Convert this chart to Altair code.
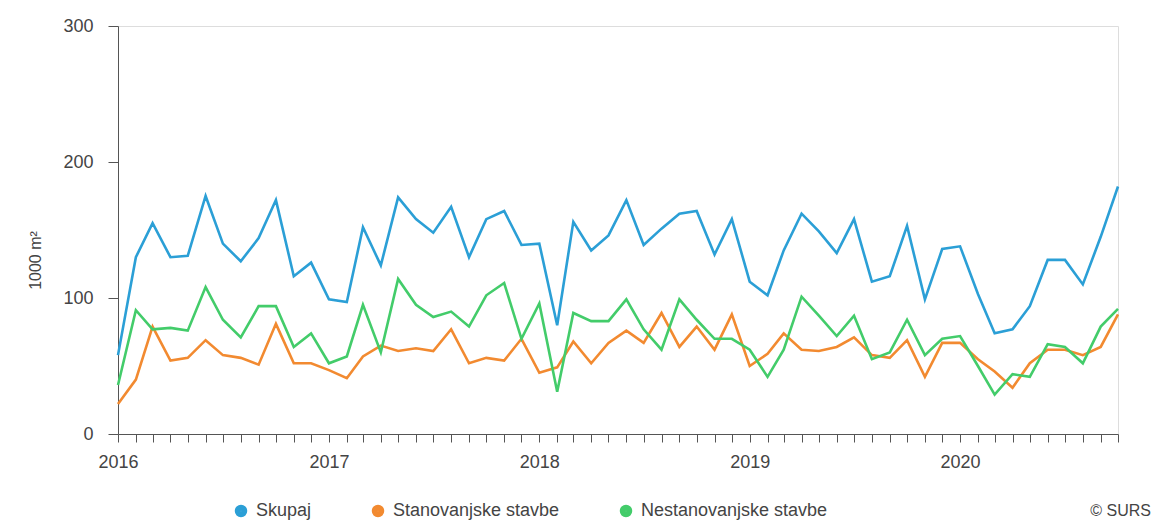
import altair as alt
import pandas as pd

dates = pd.date_range("2016-01-01", "2020-10-01", freq="MS").strftime("%Y-%m-%dT00:00:00").tolist()

series_names = ["Skupaj", "Stanovanjske stavbe", "Nestanovanjske stavbe"]
series_colors = ["#2b9fd6", "#f28a30", "#43cc6a"]

skupaj = [58, 130, 155, 130, 131, 175, 140, 127, 144, 172,
          116, 126, 99, 97, 152, 124, 174, 158, 148, 167,
          130, 158, 164, 139, 140, 80, 156, 135, 146, 172,
          139, 151, 162, 164, 132, 158, 112, 102, 135, 162,
          149, 133, 158, 112, 116, 153, 99, 136, 138, 103,
          74, 77, 94, 128, 128, 110, 145, 182]

stanovanjske = [22, 40, 79, 54, 56, 69, 58, 56, 51, 81,
                52, 52, 47, 41, 57, 65, 61, 63, 61, 77,
                52, 56, 54, 70, 45, 49, 68, 52, 67, 76,
                67, 89, 64, 79, 62, 88, 50, 59, 74, 62,
                61, 64, 71, 58, 56, 69, 42, 67, 67, 55,
                46, 34, 52, 62, 62, 58, 64, 88]

nestanovanjske = [36, 91, 77, 78, 76, 108, 84, 71, 94, 94,
                  64, 74, 52, 57, 95, 60, 114, 95, 86, 90,
                  79, 102, 111, 70, 96, 31, 89, 83, 83, 99,
                  77, 62, 99, 84, 70, 70, 62, 42, 62, 101,
                  87, 72, 87, 55, 60, 84, 58, 70, 72, 50,
                  29, 44, 42, 66, 64, 52, 79, 92]

y_ticks = [0, 100, 200, 300]

rows = []
for name, vals in zip(series_names, [skupaj, stanovanjske, nestanovanjske]):
    for d, v in zip(dates, vals):
        rows.append({"date": d, "value": v, "serija": name})
df = pd.DataFrame(rows)

FONT = "Liberation Sans"

lines = alt.Chart(df).mark_line(strokeWidth=2.6).encode(
    x=alt.X("date:T",
            scale=alt.Scale(domain=[alt.DateTime(year=2016, month=1, date=1),
                                    alt.DateTime(year=2020, month=10, date=1)], nice=False),
            axis=alt.Axis(title=None, grid=False, tickCount={"interval": "month", "step": 1},
                          labelExpr="month(datum.value) == 0 ? timeFormat(datum.value, '%Y') : ''",
                          tickSize=8, labelPadding=11, labelFontSize=18, labelColor="#444",
                          domainColor="#555", tickColor="#555", labelFlush=False,
                          labelOverlap=False, labelFont=FONT)),
    y=alt.Y("value:Q",
            scale=alt.Scale(domain=[0, 300], nice=False),
            axis=alt.Axis(title="1000 m²", values=y_ticks, grid=False, tickSize=10,
                          labelPadding=15, labelFontSize=18, labelColor="#444",
                          domainColor="#555", tickColor="#555", labelFont=FONT,
                          titleFont=FONT, titleFontSize=16, titleFontWeight="normal",
                          titleColor="#444", titleX=-83, titleY=234, titleAngle=-90,
                          titleAlign="center", titleBaseline="middle")),
    color=alt.Color("serija:N",
                    scale=alt.Scale(domain=series_names, range=series_colors),
                    sort=series_names,
                    legend=alt.Legend(title=None, orient="none", direction="horizontal",
                                      legendX=114, legendY=476, symbolType="circle",
                                      symbolSize=36, symbolStrokeWidth=6.5,
                                      labelFontSize=18, labelColor="#444", labelFont=FONT,
                                      labelOffset=6, columnPadding=50, labelLimit=400)),
    order=alt.Order("serija:N"),
)

credit = alt.Chart(pd.DataFrame({"t": ["© SURS"]})).mark_text(
    align="right", baseline="middle", fontSize=16, color="#444", font=FONT
).encode(x=alt.value(1033), y=alt.value(485), text="t:N")

chart = alt.layer(lines, credit).properties(
    width=1000, height=408,
    autosize=alt.AutoSizeParams(type="none"),
    padding={"left": 110, "top": 18, "right": 36, "bottom": 86},
).configure_view(stroke=None).configure(font=FONT)

chart.save("out.html", embed_options={"renderer": "svg", "actions": False})
